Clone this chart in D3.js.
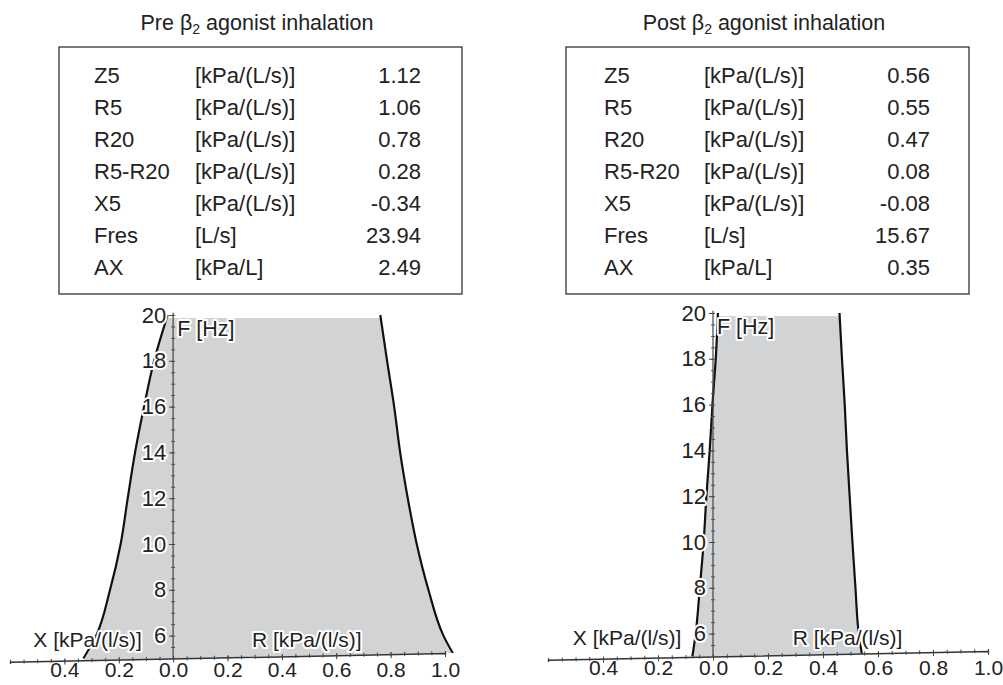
<!DOCTYPE html>
<html>
<head>
<meta charset="utf-8">
<script src="https://cdn.jsdelivr.net/npm/d3@7"></script>
<style>
  body { margin: 0; background: #fff; }
  svg { font-family: "Liberation Sans", Arial, sans-serif; }
  .halo { paint-order: stroke; stroke: #fff; stroke-width: 4px; stroke-linejoin: round; }
</style>
</head>
<body>
<div id="chart"></div>
<script>
// table data
var paramNames = ["Z5", "R5", "R20", "R5-R20", "X5", "Fres", "AX"];
var paramUnits = ["[kPa/(L/s)]", "[kPa/(L/s)]", "[kPa/(L/s)]", "[kPa/(L/s)]", "[kPa/(L/s)]", "[L/s]", "[kPa/L]"];
var preValues = ["1.12", "1.06", "0.78", "0.28", "-0.34", "23.94", "2.49"];
var postValues = ["0.56", "0.55", "0.47", "0.08", "-0.08", "15.67", "0.35"];

// curves (F in Hz, X and R in kPa/(l/s))
var freqs = [20, 18, 16, 14, 12, 10, 8, 6, 5];
var preX = [-0.02, -0.07, -0.107, -0.14, -0.167, -0.193, -0.232, -0.283, -0.33];
var preR = [0.762, 0.787, 0.813, 0.835, 0.863, 0.896, 0.939, 0.994, 1.04];
var postX = [0.018, 0.01, -0.002, -0.012, -0.024, -0.034, -0.048, -0.063, -0.075];
var postR = [0.46, 0.469, 0.479, 0.487, 0.497, 0.507, 0.518, 0.53, 0.543];

// axis ticks
var xTickValues = [-0.4, -0.2, 0, 0.2, 0.4, 0.6, 0.8, 1.0];
var yTickValues = [6, 8, 10, 12, 14, 16, 18, 20];

var svg = d3.select("#chart").append("svg")
    .attr("width", 1003)
    .attr("height", 685);

var slope = 0.02; // the x axis is drawn slightly tilted in the original

function drawTable(cfg, values) {
    var g = svg.append("g");

    g.append("text")
        .attr("x", cfg.titleX)
        .attr("y", 30)
        .attr("text-anchor", "middle")
        .attr("font-size", 21.5)
        .attr("fill", "#222")
        .call(function(t) {
            t.append("tspan").text(cfg.title + " \u03b2");
            t.append("tspan").attr("font-size", 14).attr("dy", 4).text("2");
            t.append("tspan").attr("dy", -4).text(" agonist inhalation");
        });

    g.append("rect")
        .attr("x", cfg.boxX)
        .attr("y", 47)
        .attr("width", cfg.boxW)
        .attr("height", 247)
        .attr("fill", "none")
        .attr("stroke", "#333")
        .attr("stroke-width", 1.3);

    var rows = g.selectAll("g.row")
        .data(paramNames)
        .enter()
        .append("g")
        .attr("class", "row")
        .attr("transform", function(d, i) { return "translate(0," + (83 + i * 32) + ")"; })
        .attr("font-size", 22)
        .attr("fill", "#222");

    rows.append("text").attr("x", cfg.nameX).text(function(d) { return d; });
    rows.append("text").attr("x", cfg.unitX).text(function(d, i) { return paramUnits[i]; });
    rows.append("text").attr("x", cfg.valueX).attr("text-anchor", "end")
        .text(function(d, i) { return values[i]; });
}

function drawPlot(cfg, xs, rs, id) {
    var x = d3.scaleLinear().domain([-0.6, 1.0]).range(cfg.xRange);
    var y = d3.scaleLinear().domain([5, 20]).range(cfg.yRange);
    var x0 = x(0), y0 = y(5);

    var data = freqs.map(function(f, i) { return { f: f, x: xs[i], r: rs[i] }; });

    var g = svg.append("g");

    // clip everything above the tilted axis
    svg.append("clipPath").attr("id", id)
        .append("path")
        .attr("d", "M" + (x0 - 1000) + "," + (y0 + 1000 * slope) +
                   "L" + (x0 + 1000) + "," + (y0 - 1000 * slope) +
                   "L" + (x0 + 1000) + ",0L" + (x0 - 1000) + ",0Z");

    var plot = g.append("g").attr("clip-path", "url(#" + id + ")");

    plot.append("path")
        .datum(data)
        .attr("fill", "#d2d3d5")
        .attr("d", d3.area()
            .y(function(d) { return y(d.f) + 3; })
            .x0(function(d) { return x(d.x); })
            .x1(function(d) { return x(d.r); })
            .curve(d3.curveMonotoneY));

    var lineX = d3.line()
        .x(function(d) { return x(d.x); })
        .y(function(d) { return y(d.f); })
        .curve(d3.curveMonotoneY);
    var lineR = d3.line()
        .x(function(d) { return x(d.r); })
        .y(function(d) { return y(d.f); })
        .curve(d3.curveMonotoneY);

    plot.append("path").datum(data).attr("d", lineX)
        .attr("fill", "none").attr("stroke", "#111").attr("stroke-width", 2.2);
    plot.append("path").datum(data).attr("d", lineR)
        .attr("fill", "none").attr("stroke", "#111").attr("stroke-width", 2.2);

    // vertical axis (F)
    var yMinor = d3.range(5.5, 20.01, 0.5);
    g.append("g")
        .attr("transform", "translate(" + x0 + ",0)")
        .call(d3.axisLeft(y).tickValues(yMinor).tickSize(2).tickFormat(""))
        .call(function(a) {
            a.select(".domain").remove();
            a.selectAll("line").attr("stroke", "#555").attr("x2", 2).attr("x1", -2);
        });
    g.append("line")
        .attr("x1", x0).attr("x2", x0)
        .attr("y1", y0).attr("y2", y(20.1))
        .attr("stroke", "#444").attr("stroke-width", 1.2);

    var yAxis = g.append("g")
        .attr("transform", "translate(" + x0 + ",0)")
        .call(d3.axisLeft(y).tickValues(yTickValues).tickSize(4).tickPadding(3).tickFormat(d3.format("d")));
    yAxis.select(".domain").remove();
    yAxis.selectAll("line").attr("stroke", "#444");
    yAxis.selectAll("text")
        .attr("font-size", 22)
        .attr("fill", "#222")
        .attr("class", "halo");

    // horizontal axis (X to the left, R to the right), tilted
    var angle = -Math.atan(slope) * 180 / Math.PI;
    var xAxisG = g.append("g")
        .attr("transform", "rotate(" + angle + "," + x0 + "," + y0 + ")");

    var xMinor = d3.range(-0.6, 1.001, 0.05);
    xAxisG.append("g")
        .attr("transform", "translate(0," + y0 + ")")
        .call(d3.axisBottom(x).tickValues(xMinor).tickSizeOuter(0).tickSize(2).tickFormat(""))
        .call(function(a) {
            a.select(".domain").attr("stroke", "#333").attr("stroke-width", 1.5);
            a.selectAll(".tick line").attr("stroke", "#444").attr("y1", -2).attr("y2", 2);
        });
    xAxisG.append("g")
        .attr("transform", "translate(0," + y0 + ")")
        .call(d3.axisBottom(x).tickValues(xTickValues).tickSize(4).tickFormat(""))
        .call(function(a) {
            a.select(".domain").remove();
            a.selectAll(".tick line").attr("stroke", "#444").attr("y1", -2);
        });

    // tick labels stay horizontal
    var xLabels = g.append("g")
        .attr("transform", "translate(0," + y0 + ")")
        .call(d3.axisBottom(x).tickValues(xTickValues).tickSize(0).tickPadding(4)
            .tickFormat(function(d) { return d3.format(".1f")(Math.abs(d)); }));
    xLabels.select(".domain").remove();
    xLabels.selectAll("text").attr("font-size", 21).attr("fill", "#222");

    // axis titles
    g.append("text")
        .attr("class", "halo")
        .attr("x", x0 + 4).attr("y", y(19.1))
        .attr("font-size", 21.5).attr("fill", "#222")
        .text("F [Hz]");
    g.append("text")
        .attr("class", "halo")
        .attr("x", x(-0.115)).attr("y", y(5.5))
        .attr("text-anchor", "end")
        .attr("font-size", 21).attr("fill", "#222")
        .text("X [kPa/(l/s)]");
    g.append("text")
        .attr("class", "halo")
        .attr("x", x(0.29)).attr("y", y(5.5))
        .attr("font-size", 21).attr("fill", "#222")
        .text("R [kPa/(l/s)]");
}

drawTable({ title: "Pre", titleX: 257, boxX: 59, boxW: 403, nameX: 94, unitX: 195, valueX: 421 }, preValues);
drawTable({ title: "Post", titleX: 764, boxX: 566, boxW: 403, nameX: 604, unitX: 704, valueX: 930 }, postValues);

drawPlot({ xRange: [10, 445], yRange: [658.5, 315] }, preX, preR, "clipPre");
drawPlot({ xRange: [548, 988], yRange: [656.5, 313] }, postX, postR, "clipPost");
</script>
</body>
</html>
